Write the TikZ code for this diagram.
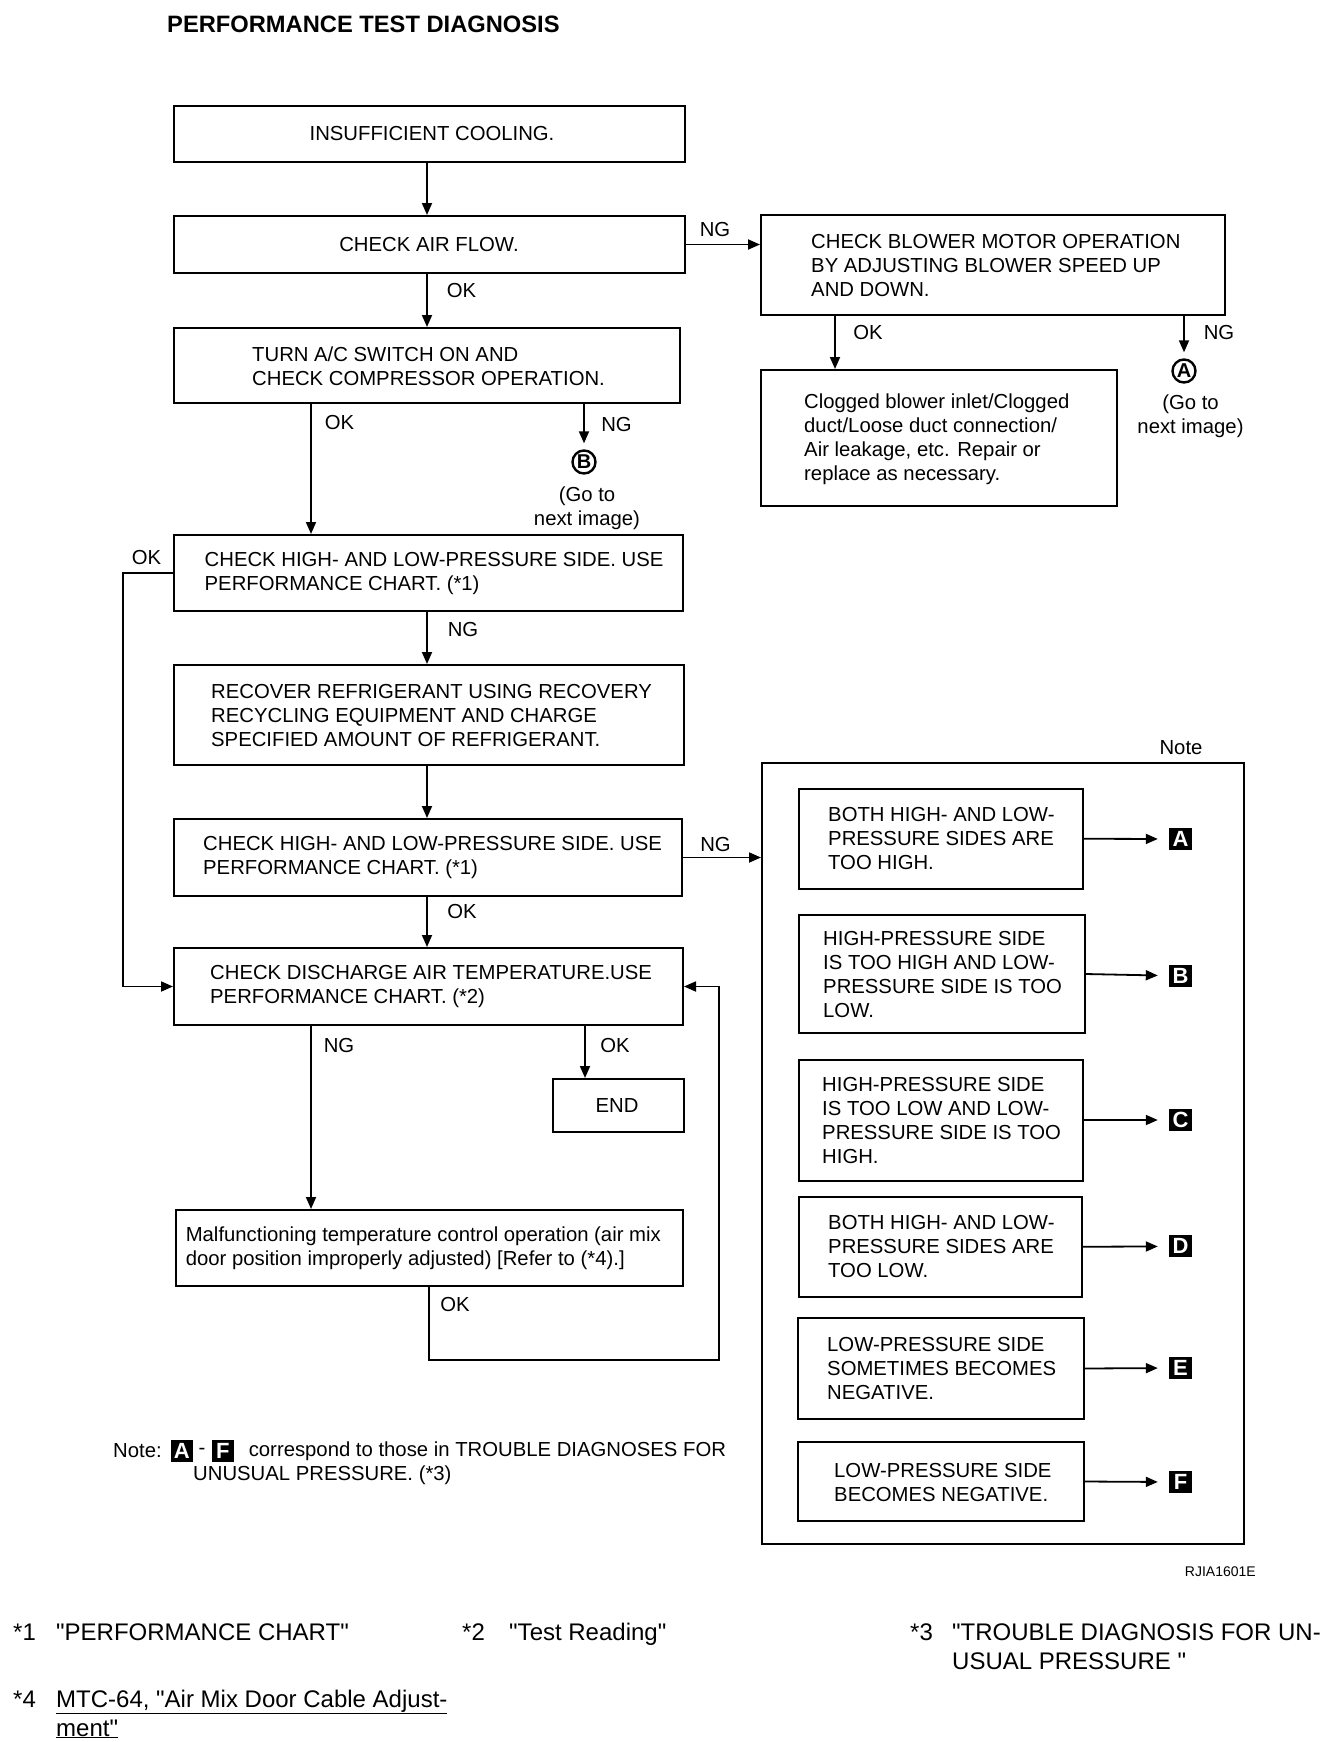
\documentclass[tikz,border=0pt]{standalone}
\usepackage{fontspec}
\setmainfont{Liberation Sans}[Ligatures=TeXOff]
\usetikzlibrary{arrows.meta}
\newcommand\bxf{\fontsize{20.3}{24}\selectfont}
\newcommand\fnf{\fontsize{24}{29}\selectfont}
\newcommand\dq{\symbol{34}}
\begin{document}
\begin{tikzpicture}[x=1pt,y=-1pt,
  bx/.style={draw, line width=2pt, inner sep=0pt},
  tx/.style={font=\bxf, inner sep=0pt, align=left, anchor=west},
  lb/.style={font=\bxf, inner sep=0pt},
  arr/.style={line width=1.8pt, -{Triangle[length=12pt,width=10pt]}},
  ln/.style={line width=1.8pt},
  circ/.style={circle, draw, line width=2.4pt, minimum size=23pt, inner sep=0pt, font=\bfseries\fontsize{20}{20}\selectfont},
  sq/.style={fill=black, text=white, minimum width=23pt, minimum height=22pt, inner sep=0pt, font=\bfseries\fontsize{22}{22}\selectfont},
  fn/.style={font=\fnf, inner sep=0pt, anchor=base west},
]
\fill[white] (0,0) rectangle (1328,1742);
\useasboundingbox (0,0) rectangle (1328,1742);

% column coordinates
\coordinate (colL) at (311,0);
\coordinate (colM) at (427,0);
\coordinate (colR) at (585,0);
\coordinate (colO) at (835,0);
\coordinate (loopL) at (123,0);
\coordinate (loopBR) at (719,1360);

% title
\node[anchor=west, inner sep=0pt, font=\bfseries\fontsize{23.7}{28}\selectfont] (title) at (167,24.5) {PERFORMANCE TEST DIAGNOSIS};

% main column boxes
\node[bx, minimum width=511pt, minimum height=56pt] (b1) at (429.5,134) {};
\node[lb] (t1) at (432,134) {INSUFFICIENT COOLING.};
\node[bx, minimum width=511pt, minimum height=57pt] (b2) at (429.5,244.5) {};
\node[lb] (t2) at (429,244.5) {CHECK AIR FLOW.};
\node[bx, minimum width=506pt, minimum height=75pt] (b3) at (427,365.5) {};
\node[tx] (t3) at (252,366) {TURN A/C SWITCH ON AND\\CHECK COMPRESSOR OPERATION.};
\node[bx, minimum width=509pt, minimum height=76pt] (b4) at (428.5,573) {};
\node[tx] (t4) at (204.5,574) {CHECK HIGH- AND LOW-PRESSURE SIDE. USE\\PERFORMANCE CHART. (*1)};
\node[bx, minimum width=510pt, minimum height=100pt] (b5) at (429,715) {};
\node[tx] (t5) at (211,715.5) {RECOVER REFRIGERANT USING RECOVERY\\RECYCLING EQUIPMENT AND CHARGE\\SPECIFIED AMOUNT OF REFRIGERANT.};
\node[bx, minimum width=508pt, minimum height=77pt] (b6) at (428,857.5) {};
\node[tx] (t6) at (203,858) {CHECK HIGH- AND LOW-PRESSURE SIDE. USE\\PERFORMANCE CHART. (*1)};
\node[bx, minimum width=509pt, minimum height=77pt] (b7) at (428.5,986.5) {};
\node[tx] (t7) at (210,987) {CHECK DISCHARGE AIR TEMPERATURE.USE\\PERFORMANCE CHART. (*2)};
\node[bx, minimum width=131pt, minimum height=53pt] (bend) at (618,1105.5) {};
\node[lb] (tend) at (617,1106) {END};
\node[bx, minimum width=507pt, minimum height=76pt] (b8) at (429,1248) {};
\node[tx] (t8) at (185.6,1248.5) {Malfunctioning temperature control operation (air mix\\door position improperly adjusted) [Refer to (*4).]};

% right upper boxes
\node[bx, minimum width=464pt, minimum height=100pt] (blow) at (993,265) {};
\node[tx] (tblow) at (811,265.5) {CHECK BLOWER MOTOR OPERATION\\BY ADJUSTING BLOWER SPEED UP\\AND DOWN.};
\node[bx, minimum width=356pt, minimum height=136pt] (clog) at (939,438) {};
\node[tx] (tclog) at (804,439) {Clogged blower inlet/Clogged\\duct/Loose duct connection/\\Air leakage, etc. Repair or\\replace as necessary.};

% circled references
\node[circ] (cB) at (584,462) {B};
\node[lb, align=center] (gB) at (587,508) {(Go to\\next image)};
\node[circ] (cA) at (1184,371) {A};
\node[lb, align=center] (gA) at (1190.5,416.5) {(Go to\\next image)};

% note box
\node[lb] (notelbl) at (1181,747.5) {Note};
\node[bx, minimum width=482pt, minimum height=781pt] (note) at (1003,1153.5) {};
\node[bx, minimum width=284pt, minimum height=100.5pt] (pA) at (940.5,838.75) {};
\node[tx] (tA) at (828,839) {BOTH HIGH- AND LOW-\\PRESSURE SIDES ARE\\TOO HIGH.};
\node[bx, minimum width=286pt, minimum height=118pt] (pB) at (941.6,974) {};
\node[tx] (tB) at (823,974.5) {HIGH-PRESSURE SIDE\\IS TOO HIGH AND LOW-\\PRESSURE SIDE IS TOO\\LOW.};
\node[bx, minimum width=284pt, minimum height=121pt] (pC) at (940.5,1120) {};
\node[tx] (tC) at (822,1120.5) {HIGH-PRESSURE SIDE\\IS TOO LOW AND LOW-\\PRESSURE SIDE IS TOO\\HIGH.};
\node[bx, minimum width=283.5pt, minimum height=100.5pt] (pD) at (940.25,1246.75) {};
\node[tx] (tD) at (828,1246.5) {BOTH HIGH- AND LOW-\\PRESSURE SIDES ARE\\TOO LOW.};
\node[bx, minimum width=286pt, minimum height=101pt] (pE) at (941,1368.5) {};
\node[tx] (tE) at (827,1368.5) {LOW-PRESSURE SIDE\\SOMETIMES BECOMES\\NEGATIVE.};
\node[bx, minimum width=286pt, minimum height=79pt] (pF) at (941,1481.5) {};
\node[tx] (tF) at (834,1482) {LOW-PRESSURE SIDE\\BECOMES NEGATIVE.};

\node[sq] (sA) at (1180.5,839) {A};
\node[sq] (sB) at (1180.5,975.7) {B};
\node[sq] (sC) at (1180.5,1120) {C};
\node[sq] (sD) at (1180.5,1246.4) {D};
\node[sq] (sE) at (1180.5,1368) {E};
\node[sq] (sF) at (1180.5,1482) {F};

\foreach \p in {A,B,C,D,E,F}{
  \draw[arr, shorten >=11pt] (p\p.east) -- (s\p.west);
}

% labels
\node[lb] (ng1) at (715,229.5) {NG};
\node[lb] (ok1) at (461.5,291) {OK};
\node[lb] (ok2) at (339.5,423) {OK};
\node[lb] (ng2) at (616.5,425) {NG};
\node[lb] (ok3) at (868,332.5) {OK};
\node[lb] (ng3) at (1219,333) {NG};
\node[lb] (ok4) at (146.5,558) {OK};
\node[lb] (ng4) at (463,630) {NG};
\node[lb] (ng5) at (715.5,845) {NG};
\node[lb] (ok5) at (462,912) {OK};
\node[lb] (ng6) at (339,1045) {NG};
\node[lb] (ok6) at (615,1045) {OK};
\node[lb] (ok7) at (455,1304.5) {OK};

% connectors
\draw[arr] (b1.south -| colM) -- (b2.north -| colM);
\draw[arr] (b2.south -| colM) -- (b3.north -| colM);
\draw[arr] (b2.east) -- (b2.east -| blow.west);
\draw[arr] (b3.south -| colL) -- (b4.north -| colL);
\draw[arr, shorten >=6pt] (b3.south -| cB) -- (cB.north);
\draw[arr] (blow.south -| colO) -- (clog.north -| colO);
\draw[arr, shorten >=6pt] (blow.south -| cA) -- (cA.north);
\draw[arr] (b4.south -| colM) -- (b5.north -| colM);
\draw[arr] (b4.west) -- (b4.west -| loopL) |- (b7.west);
\draw[arr] (b5.south -| colM) -- (b6.north -| colM);
\draw[arr] (b6.east) -- (b6.east -| note.west);
\draw[arr] (b6.south -| colM) -- (b7.north -| colM);
\draw[arr] (b7.south -| colL) -- (b8.north -| colL);
\draw[arr] (b7.south -| colR) -- (bend.north -| colR);
\draw[arr] (b8.south) |- (loopBR) |- (b7.east);

% note text
\node[lb, anchor=west] (nt1) at (113,1451) {Note:};
\node[sq, minimum width=22pt] (nA) at (181.8,1451) {A};
\node[lb] (ndash) at (202,1451) {-};
\node[sq, minimum width=22pt] (nF) at (222.8,1451) {F};
\node[lb, anchor=west] (nt2) at (248.6,1451) {correspond to those in TROUBLE DIAGNOSES FOR};
\node[lb, anchor=west] (nt3) at (193,1475) {UNUSUAL PRESSURE. (*3)};

\node[anchor=east, inner sep=0pt, font=\fontsize{14}{16}\selectfont] (rj) at (1256,1572) {RJIA1601E};

% footnotes
\node[fn] (f1a) at (13,1640) {*1};
\node[fn] (f1b) at (56,1640) {\dq PERFORMANCE CHART\dq};
\node[fn] (f2a) at (462,1640) {*2};
\node[fn] (f2b) at (509,1640) {\dq Test Reading\dq};
\node[fn] (f3a) at (910,1640) {*3};
\node[fn] (f3b) at (952,1640) {\dq TROUBLE DIAGNOSIS FOR UN-};
\node[fn] (f3c) at (952,1669) {USUAL PRESSURE \dq};
\node[fn] (f4a) at (13,1707) {*4};
\node[fn] (f4b) at (56,1707) {\underline{MTC-64, \dq Air Mix Door Cable Adjust-}};
\node[fn] (f4c) at (56,1736) {\underline{ment\dq}};
\end{tikzpicture}
\end{document}
